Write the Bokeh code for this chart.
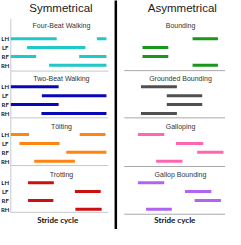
from bokeh.plotting import figure
from bokeh.models import Range1d, ColumnDataSource
from bokeh.core.properties import value
from bokeh.embed import file_html
from bokeh.resources import INLINE

# ---------------- data: stance phases as fraction of the stride cycle ----------------
limbs = ["LH", "LF", "RF", "RH"]

sym_gaits = ["Four-Beat Walking", "Two-Beat Walking", "Tölting", "Trotting"]
asym_gaits = ["Bounding", "Grounded Bounding", "Galloping", "Gallop Bounding"]

four_beat_walking = {"LH": [(0.00, 0.48), (0.90, 1.00)], "LF": [(0.17, 0.78)],
                     "RF": [(0.00, 0.265), (0.715, 1.00)], "RH": [(0.40, 1.00)]}
two_beat_walking = {"LH": [(0.00, 0.50)], "LF": [(0.325, 1.00)],
                    "RF": [(0.00, 0.50)], "RH": [(0.32, 1.00)]}
tolting = {"LH": [(0.00, 0.19), (0.72, 0.99)], "LF": [(0.09, 0.51)],
           "RF": [(0.58, 1.00)], "RH": [(0.245, 0.67)]}
trotting = {"LH": [(0.18, 0.45)], "LF": [(0.67, 0.94)],
            "RF": [(0.18, 0.445)], "RH": [(0.675, 0.95)]}

bounding = {"LH": [(0.675, 0.925)], "LF": [(0.18, 0.435)],
            "RF": [(0.18, 0.435)], "RH": [(0.675, 0.925)]}
grounded_bounding = {"LH": [(0.165, 0.52)], "LF": [(0.42, 0.77)],
                     "RF": [(0.42, 0.77)], "RH": [(0.165, 0.52)]}
galloping = {"LH": [(0.135, 0.395)], "LF": [(0.51, 0.78)],
             "RF": [(0.72, 0.98)], "RH": [(0.315, 0.575)]}
gallop_bounding = {"LH": [(0.135, 0.395)], "LF": [(0.60, 0.86)],
                   "RF": [(0.695, 0.955)], "RH": [(0.215, 0.47)]}

sym_data = [four_beat_walking, two_beat_walking, tolting, trotting]
asym_data = [bounding, grounded_bounding, galloping, gallop_bounding]

sym_colors = ["#20c8c8", "#0808b8", "#ff8410", "#cc1010"]
asym_colors = ["#1a961a", "#505050", "#ff66b2", "#b064f0"]

group_titles = ["Symmetrical", "Asymmetrical"]
x_label = "Stride cycle"

# ---------------- layout (layout units) ----------------
LX0, LX1 = 1, 241
TY, BY = 3, 243
SYM_X0, SYM_X1 = 12, 114
ASYM_X0, ASYM_X1 = 133, 241
ROW0 = [43, 93.5, 143.5, 194]
ROW_STEP = 9.3
TITLE_Y = [29, 84.5, 135, 185.5]
SEP_LEFT = [77, 126, 176, 225]
SEP_RIGHT = [76.5, 126, 177, 227]

p = figure(width=225, height=229, x_range=Range1d(LX0, LX1), y_range=Range1d(BY, TY),
           output_backend="svg", toolbar_location=None, min_border=0,
           x_axis_location=None, y_axis_location=None, outline_line_color=None,
           background_fill_color="white", border_fill_color="white")
p.grid.visible = False


def stride_range(x0, x1):
    w = x1 - x0
    return Range1d((LX0 - x0) / w, (LX1 - x0) / w)


p.extra_x_ranges = {"sym": stride_range(SYM_X0, SYM_X1),
                    "asym": stride_range(ASYM_X0, ASYM_X1)}


def segments(data_list, colors):
    d = dict(x0=[], x1=[], y=[], c=[])
    for i, gait in enumerate(data_list):
        for j, limb in enumerate(limbs):
            for (s, e) in gait[limb]:
                d["x0"].append(s)
                d["x1"].append(e)
                d["y"].append(ROW0[i] + ROW_STEP * j)
                d["c"].append(colors[i])
    return ColumnDataSource(d)


# guide lines
p.segment(x0=[SYM_X0] * 4, x1=[SYM_X1 + 2] * 4, y0=SEP_LEFT, y1=SEP_LEFT,
          line_color="#c8c8c8", line_width=1)
p.segment(x0=[SYM_X0], x1=[SYM_X0], y0=[22], y1=[SEP_LEFT[-1]],
          line_color="#c8c8c8", line_width=1)
p.segment(x0=[ASYM_X0] * 4, x1=[ASYM_X1] * 4, y0=SEP_RIGHT, y1=SEP_RIGHT,
          line_color="#a8a8a8", line_width=1)
p.segment(x0=[124], x1=[124], y0=[2], y1=[243], line_color="black", line_width=2.5)

# stance bars
p.segment(x0="x0", x1="x1", y0="y", y1="y", line_color="c", line_width=3,
          source=segments(sym_data, sym_colors), x_range_name="sym")
p.segment(x0="x0", x1="x1", y0="y", y1="y", line_color="c", line_width=3,
          source=segments(asym_data, asym_colors), x_range_name="asym")

# texts
p.text(x=[65.5, 195], y=[11, 11], text=group_titles, text_font=value("Liberation Sans"),
       text_font_size="11.5px", text_align="center", text_baseline="middle", text_color="#1a1a1a")
p.text(x=[66] * 4, y=TITLE_Y, text=sym_gaits, text_font=value("Liberation Sans"),
       text_font_size="7px", text_align="center", text_baseline="middle", text_color="#333333")
p.text(x=[193] * 4, y=TITLE_Y, text=asym_gaits, text_font=value("Liberation Sans"),
       text_font_size="7px", text_align="center", text_baseline="middle", text_color="#333333")
lx, ly, lt = [], [], []
for i in range(4):
    for j, limb in enumerate(limbs):
        lx.append(6)
        ly.append(ROW0[i] + ROW_STEP * j)
        lt.append(limb)
p.text(x=lx, y=ly, text=lt, text_font=value("Lato"), text_font_size="6px",
       text_font_style="bold", text_align="center", text_baseline="middle",
       text_color="#222222")
p.text(x=[62, 187], y=[233, 233], text=[x_label, x_label], text_font=value("Lato"),
       text_font_size="8px", text_font_style="bold", text_align="center",
       text_baseline="middle", text_color="#111111")

open("out.html", "w").write(file_html(p, INLINE))
